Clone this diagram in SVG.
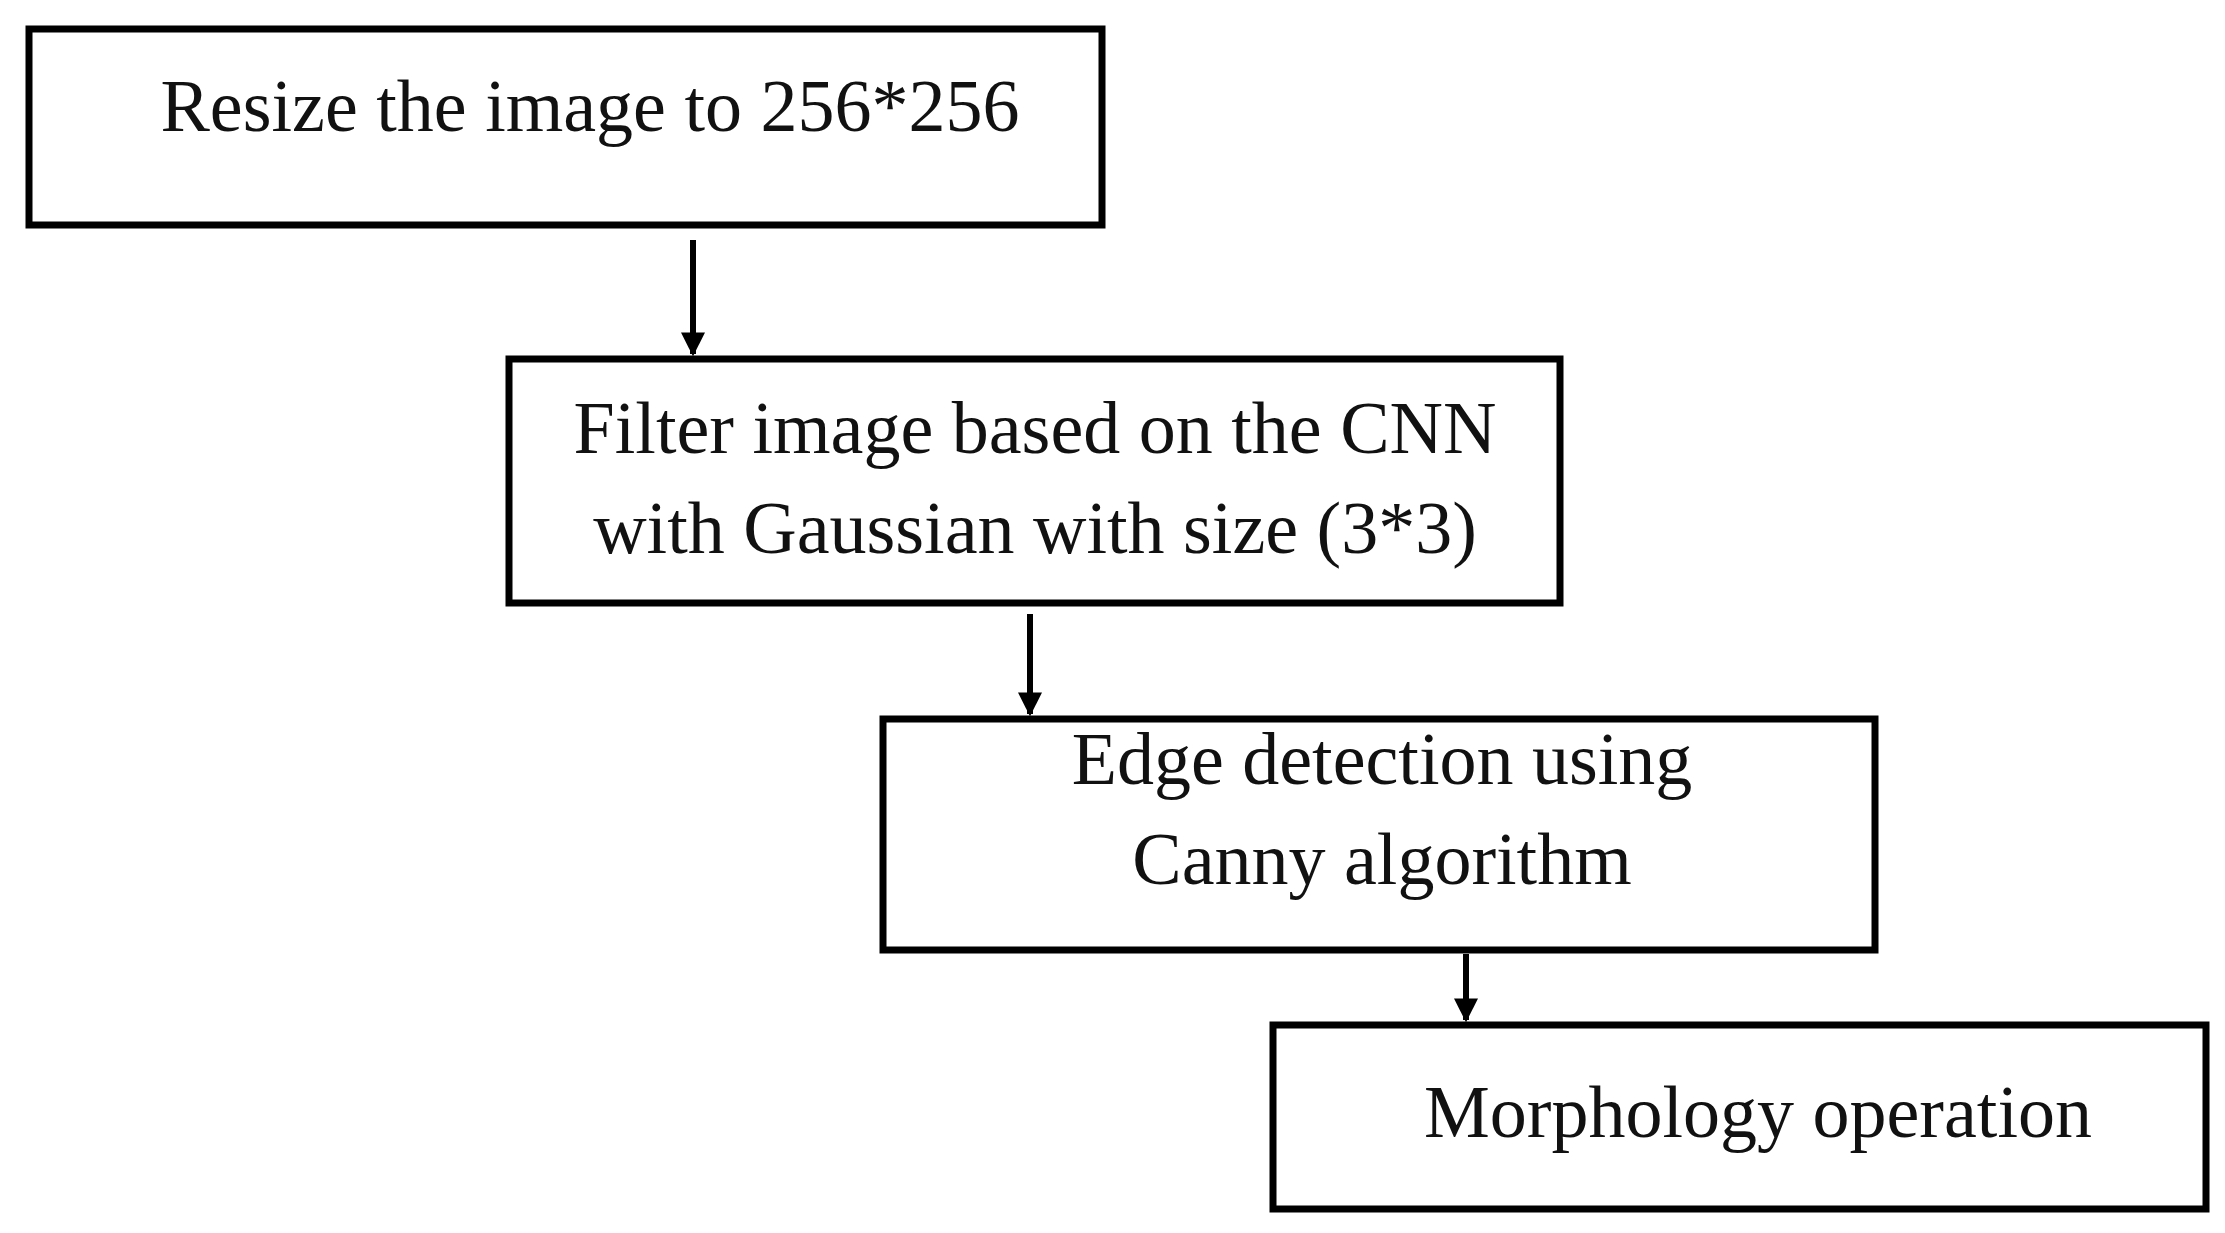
<svg xmlns="http://www.w3.org/2000/svg" width="2225" height="1233" viewBox="0 0 2225 1233">
<defs>
<style>
.box{fill:#fff;stroke:#000;stroke-width:7}
.t{font-family:"Liberation Serif",serif;font-size:74px;fill:#111}
.c{stroke:#000;stroke-width:6;fill:none}
</style>
<marker id="a" viewBox="0 0 10 10" refX="9" refY="5" markerWidth="4" markerHeight="4" orient="auto" markerUnits="strokeWidth"><path d="M0,0L10,5L0,10z" fill="#000"/></marker>
</defs>
<rect width="2225" height="1233" fill="#fff"/>
<g id="n1"><rect class="box" x="29" y="29" width="1073" height="196"/><text class="t" x="590" y="131" text-anchor="middle">Resize the image to 256*256</text></g>
<g id="n2"><rect class="box" x="509" y="359" width="1051" height="244"/><text class="t" x="1035" y="453" text-anchor="middle">Filter image based on the CNN</text><text class="t" x="1035" y="553" text-anchor="middle">with Gaussian with size (3*3)</text></g>
<g id="n3"><rect class="box" x="883" y="719" width="992" height="231"/><text class="t" x="1382" y="784" text-anchor="middle">Edge detection using</text><text class="t" x="1382" y="884" text-anchor="middle">Canny algorithm</text></g>
<g id="n4"><rect class="box" x="1273" y="1025" width="933" height="184"/><text class="t" x="1758" y="1137" text-anchor="middle">Morphology operation</text></g>
<g id="connectors">
<line class="c" x1="693" y1="240" x2="693" y2="354" marker-end="url(#a)"/>
<line class="c" x1="1030" y1="614" x2="1030" y2="714" marker-end="url(#a)"/>
<line class="c" x1="1466" y1="954" x2="1466" y2="1020" marker-end="url(#a)"/>
</g>
</svg>
